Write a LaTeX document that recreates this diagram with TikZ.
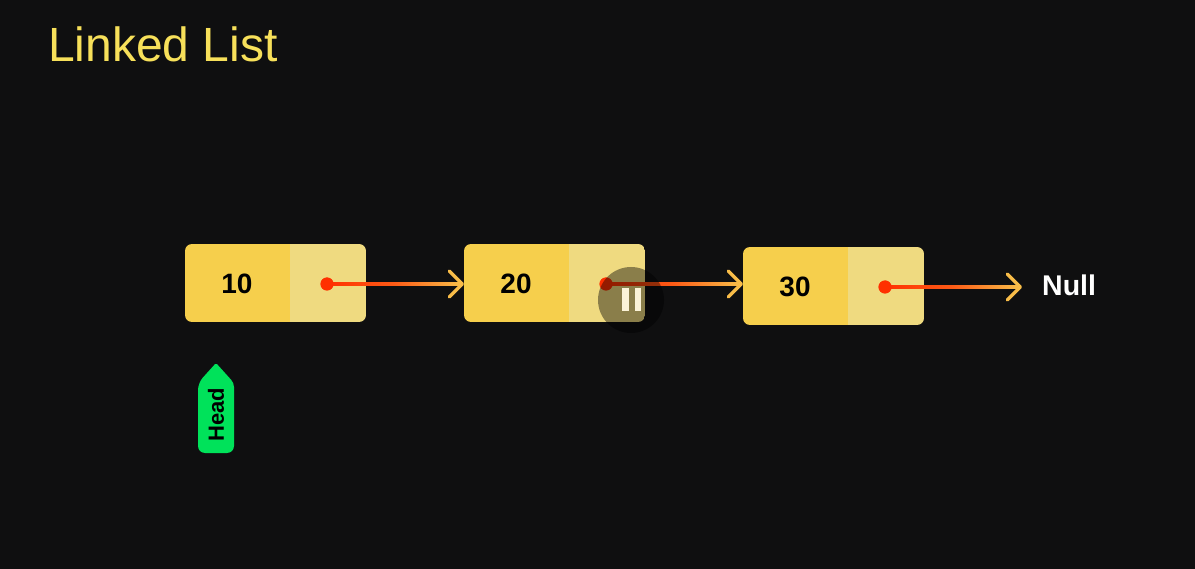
\documentclass[tikz,border=0pt]{standalone}
\usepackage{fontspec}
\setmainfont{Liberation Sans}
\usetikzlibrary{arrows.meta,calc,shapes.geometric}
\definecolor{bg}{HTML}{0F0F10}
\definecolor{dark}{HTML}{F6CF4C}
\definecolor{light}{HTML}{EFDA80}
\definecolor{amber}{HTML}{F8BC48}
\definecolor{hot}{HTML}{FF3000}
\definecolor{titlec}{HTML}{F7E05A}
\definecolor{headc}{HTML}{00E25A}
\definecolor{cream}{HTML}{FBF3D8}
\tikzset{
  x=1pt,y=-1pt,
  cell/.style={minimum height=78pt,inner sep=0pt,outer sep=0pt,font=\bfseries\fontsize{28}{30}\selectfont,text=black},
  dot/.style={circle,fill=hot,minimum size=13pt,inner sep=0pt,outer sep=0pt},
  link/.style={draw=amber,line width=3.4pt,-{Straight Barb[length=13pt,width=26pt,line width=3.4pt,round]},line cap=round}
}
\newcommand{\listbox}[4]{% name, left x, top y, value
  \begin{scope}
    \clip[rounded corners=7pt] (#2,#3) rectangle ++(181,78);
    \fill[dark] (#2,#3) rectangle ++(105,78);
    \fill[light] (#2+105,#3) rectangle ++(76,78);
  \end{scope}
  \node[cell,anchor=north west,minimum width=104pt] (#1v) at (#2,#3+1) {#4};
  \node[cell,anchor=north west,minimum width=76pt] (#1p) at (#2+105,#3) {};
}
\begin{document}
\begin{tikzpicture}
\useasboundingbox (0,0) rectangle (1195,569);
\fill[bg] (0,0) rectangle (1195,569);

\node[anchor=base west,inner sep=0pt,text=titlec,font=\fontsize{48}{50}\selectfont] (title) at (48,62) {Linked List};

\listbox{a}{185}{244}{10}
\listbox{b}{464}{244}{20}
\listbox{c}{743}{247}{30}

\node[dot] (d1) at (327,284) {};
\node[dot] (d2) at (606,284) {};
\node[dot] (d3) at (885,287) {};
\node[anchor=base west,inner sep=0pt,text=white,font=\bfseries\fontsize{28.5}{30}\selectfont] (null) at (1042,296) {Null};
\coordinate (t1) at (464,284);
\coordinate (t2) at (743,284);
\coordinate (t3) at (1022,287);

\foreach \s/\e in {d1/t1,d2/t2,d3/t3}{
  \draw[link] (\s.center) -- (\e);
  \shade[shading angle=90,left color=hot,right color=amber,middle color=hot!70!amber] ($(\s.center)+(0,-1.9)$) rectangle ($(\e)+(-4,1.9)$);
  \node[dot] at (\s.center) {};
}

% Head tag
\fill[headc] (216,453) [rounded corners=7pt] -- (198,453) -- (198,383) [rounded corners=1.5pt] -- (216,363) [rounded corners=4pt] -- (234,383) [rounded corners=7pt] -- (234,453) -- cycle;
\node[rotate=90,inner sep=0pt,font=\bfseries\fontsize{22}{24}\selectfont,text=black] (head) at (216,414.5) {Head};

% pause overlay
\fill[black,opacity=.42] (631,300) circle (33);
\fill[cream] (622,288) rectangle (629,311);
\fill[cream] (635,288) rectangle (641,311);
\end{tikzpicture}
\end{document}
